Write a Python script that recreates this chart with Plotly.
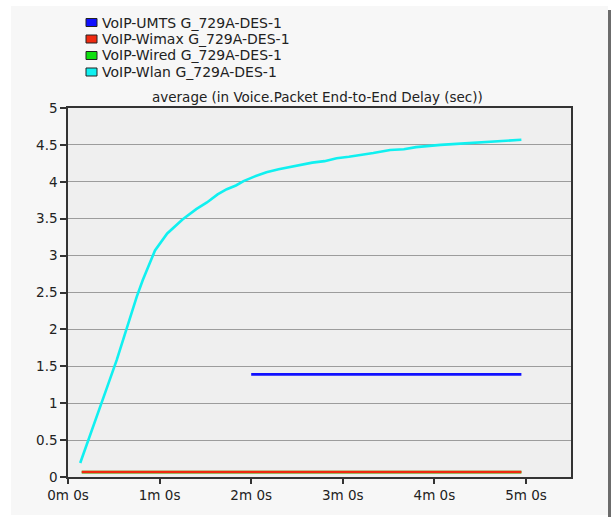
import plotly.graph_objects as go

# Simulation time (seconds) and average voice packet end-to-end delay (seconds)
wlan_time = [8, 14, 21, 25, 32, 38, 45, 49, 57, 65, 75, 84, 91, 98, 104, 110, 115,
             122, 130, 138, 145, 152, 160, 168, 176, 184, 191, 200, 211, 220, 228,
             236, 244, 252, 261, 270, 279, 288, 297]
wlan_delay = [0.19, 0.55, 0.95, 1.18, 1.59, 1.99, 2.44, 2.67, 3.07, 3.30, 3.49, 3.63,
              3.72, 3.83, 3.90, 3.95, 4.01, 4.07, 4.13, 4.17, 4.20, 4.22, 4.26, 4.28,
              4.32, 4.34, 4.36, 4.39, 4.43, 4.44, 4.47, 4.48, 4.50, 4.51, 4.52, 4.53,
              4.54, 4.55, 4.57]

umts_time = [120, 297]
umts_delay = [1.39, 1.39]

wimax_time = [9, 297]
wimax_delay = [0.068, 0.068]

wired_time = [9, 297]
wired_delay = [0.066, 0.066]

series_names = ["VoIP-UMTS G_729A-DES-1", "VoIP-Wimax G_729A-DES-1",
                "VoIP-Wired G_729A-DES-1", "VoIP-Wlan G_729A-DES-1"]
series_colors = ["#1010ff", "#f02a10", "#10e010", "#10f0f0"]

x_tickvals = [0, 60, 120, 180, 240, 300]
x_ticktext = ["0m 0s", "1m 0s", "2m 0s", "3m 0s", "4m 0s", "5m 0s"]
y_tickvals = [0, 0.5, 1, 1.5, 2, 2.5, 3, 3.5, 4, 4.5, 5]
y_ticktext = ["0", "0.5", "1", "1.5", "2", "2.5", "3", "3.5", "4", "4.5", "5"]

title_text = "average (in Voice.Packet End-to-End Delay (sec))"

W, H = 612, 517
ML, MR, MT, MB = 68, 41, 108, 40
PW, PH = W - ML - MR, H - MT - MB
FONT = "DejaVu Sans, Arial, sans-serif"


def px_x(p):
    return (p - ML) / PW


def px_y(p):
    return (H - MB - p) / PH


fig = go.Figure()

# green lies under red at nearly the same delay
traces = [
    (wired_time, wired_delay, 2),
    (wimax_time, wimax_delay, 1),
    (umts_time, umts_delay, 0),
    (wlan_time, wlan_delay, 3),
]
for xs, ys, idx in traces:
    fig.add_trace(go.Scatter(
        x=xs, y=ys, mode="lines", name=series_names[idx],
        line=dict(color=series_colors[idx], width=2.6),
        showlegend=False, hoverinfo="skip",
    ))

shapes = [
    # light panel behind the whole chart
    dict(type="rect", xref="paper", yref="paper",
         x0=px_x(11), x1=px_x(608), y0=px_y(515), y1=px_y(6),
         fillcolor="#f7f7f7", line=dict(width=0), layer="below"),
    # plot area fill
    dict(type="rect", xref="paper", yref="paper",
         x0=0, x1=1, y0=0, y1=1,
         fillcolor="#efefef", line=dict(width=0), layer="below"),
    # dark divider at the right edge
    dict(type="rect", xref="paper", yref="paper",
         x0=px_x(608), x1=px_x(611), y0=px_y(517), y1=px_y(10),
         fillcolor="#6c6c6c", line=dict(width=0), layer="below"),
]

annotations = [
    dict(text=title_text, xref="paper", yref="paper", x=px_x(317), y=px_y(97),
         xanchor="center", yanchor="middle", showarrow=False,
         font=dict(family=FONT, size=13.5, color="#222222")),
]

# legend entries: swatch + label
row_y = [22.5, 39, 55.5, 72]
for name, color, ry in zip(series_names, series_colors, row_y):
    shapes.append(dict(type="rect", xref="paper", yref="paper",
                       x0=px_x(86), x1=px_x(97), y0=px_y(ry + 4), y1=px_y(ry - 4),
                       fillcolor=color, line=dict(color="#222222", width=1)))
    annotations.append(dict(text=name, xref="paper", yref="paper",
                            x=px_x(100), y=px_y(ry), xanchor="left", yanchor="middle",
                            showarrow=False,
                            font=dict(family=FONT, size=14, color="#222222")))

fig.update_layout(
    width=W, height=H,
    margin=dict(l=ML, r=MR, t=MT, b=MB, pad=0),
    paper_bgcolor="white",
    plot_bgcolor="rgba(0,0,0,0)",
    showlegend=False,
    shapes=shapes,
    annotations=annotations,
    font=dict(family=FONT, size=13.5, color="#222222"),
)

fig.update_xaxes(
    range=[0, 329.5], tickmode="array", tickvals=x_tickvals, ticktext=x_ticktext,
    showgrid=False, zeroline=False,
    showline=True, linecolor="#333333", linewidth=1.5, mirror=True,
    ticks="outside", ticklen=5, tickcolor="#333333", tickwidth=1.5,
    tickfont=dict(family=FONT, size=13.5, color="#222222"),
)
fig.update_yaxes(
    range=[0, 5], tickmode="array", tickvals=y_tickvals, ticktext=y_ticktext,
    showgrid=True, gridcolor="#9c9c9c", gridwidth=1, zeroline=False,
    showline=True, linecolor="#333333", linewidth=1.5, mirror=True,
    ticks="outside", ticklen=6, tickcolor="#333333", tickwidth=1.5,
    tickfont=dict(family=FONT, size=13.5, color="#222222"),
)

fig.write_html("out.html")
